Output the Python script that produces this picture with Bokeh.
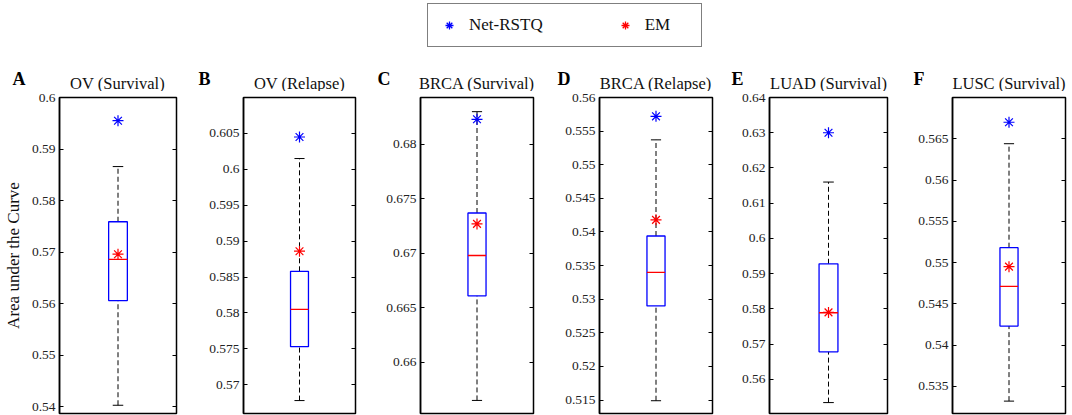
from bokeh.plotting import figure
from bokeh.models import (ColumnDataSource, Range1d, LinearAxis, FixedTicker,
                          Legend, LegendItem)
from bokeh.core.properties import value
from bokeh.layouts import column, row
from bokeh.embed import file_html
from bokeh.resources import INLINE

# ---- data ----
letters = ["A", "B", "C", "D", "E", "F"]
titles = ["OV (Survival)", "OV (Relapse)", "BRCA (Survival)", "BRCA (Relapse)",
          "LUAD (Survival)", "LUSC (Survival)"]
whisker_low = [0.5403, 0.5678, 0.6565, 0.5149, 0.5534, 0.5332]
q1 = [0.5606, 0.5753, 0.6661, 0.5290, 0.5678, 0.5423]
median = [0.5686, 0.5805, 0.6698, 0.5340, 0.5789, 0.5471]
q3 = [0.5759, 0.5858, 0.6737, 0.5394, 0.5928, 0.5518]
whisker_high = [0.5866, 0.6015, 0.6830, 0.5537, 0.6160, 0.5644]
net_rstq = [0.5955, 0.6045, 0.6823, 0.5572, 0.6300, 0.5670]
em = [0.5696, 0.5886, 0.6727, 0.5418, 0.5790, 0.5495]
y_low = [0.5387, 0.5660, 0.6553, 0.5130, 0.5503, 0.5317]
y_high = [0.6000, 0.6100, 0.6843, 0.5600, 0.6400, 0.5700]
tick_values = [
    [0.54, 0.55, 0.56, 0.57, 0.58, 0.59, 0.6],
    [0.57, 0.575, 0.58, 0.585, 0.59, 0.595, 0.6, 0.605],
    [0.66, 0.665, 0.67, 0.675, 0.68],
    [0.515, 0.52, 0.525, 0.53, 0.535, 0.54, 0.545, 0.55, 0.555, 0.56],
    [0.56, 0.57, 0.58, 0.59, 0.6, 0.61, 0.62, 0.63, 0.64],
    [0.535, 0.54, 0.545, 0.55, 0.555, 0.56, 0.565],
]
tick_labels = [[format(v, "g") for v in tv] for tv in tick_values]
legend_labels = ["Net-RSTQ", "EM"]
y_label = "Area under the Curve"

# ---- layout / style ----
FONT = "Liberation Serif"
fig_widths = [180, 180, 180, 180, 180, 172]
border_left = [58, 63, 60, 59, 49, 52]
border_right = [4, 5, 7, 8, 13, 7]
letter_x = [12, 198, 377, 557, 731, 913]
TOP_H = 91
ROW_H = 324
BOX_HALF = 0.08
CAP_HALF = 0.045

panels = []
frame_centers = []
left_edge = 0
for i in range(6):
    frame_centers.append(left_edge + border_left[i] +
                         (fig_widths[i] - border_left[i] - border_right[i]) / 2)
    left_edge += fig_widths[i]

    src = ColumnDataSource(dict(
        x=[1.0], wl=[whisker_low[i]], q1=[q1[i]], med=[median[i]], q3=[q3[i]],
        wh=[whisker_high[i]], net=[net_rstq[i]], em=[em[i]]))
    p = figure(width=fig_widths[i], height=ROW_H, output_backend="svg",
               toolbar_location=None, title=None, x_range=Range1d(0.5, 1.5),
               y_range=Range1d(y_low[i], y_high[i]),
               min_border_left=border_left[i], min_border_right=border_right[i],
               min_border_top=6, min_border_bottom=2)
    p.xaxis.visible = False
    p.xgrid.visible = False
    p.ygrid.visible = False
    p.outline_line_color = "black"
    p.outline_line_width = 1.5
    p.outline_line_alpha = 1.0

    ax = p.yaxis[0]
    ax.ticker = FixedTicker(ticks=tick_values[i])
    ax.major_label_overrides = {v: s for v, s in zip(tick_values[i], tick_labels[i])}
    ax.major_tick_in = 4
    ax.major_tick_out = 0
    ax.minor_tick_line_color = None
    ax.axis_line_width = 1.5
    ax.major_label_text_font = FONT
    ax.major_label_text_font_size = "13.5px"
    ax.major_label_text_color = "#222222"
    ax.major_label_standoff = 4
    if i == 0:
        ax.axis_label = y_label
        ax.axis_label_text_font = FONT
        ax.axis_label_text_font_size = "17px"
        ax.axis_label_text_font_style = "normal"
        ax.axis_label_text_color = "#111111"
        ax.axis_label_standoff = 6

    rax = LinearAxis(ticker=FixedTicker(ticks=tick_values[i]),
                     major_label_overrides={v: "" for v in tick_values[i]},
                     major_tick_in=4, major_tick_out=0, minor_tick_line_color=None,
                     axis_line_color=None, major_label_standoff=0,
                     major_label_text_font_size="1px")
    p.add_layout(rax, "right")

    # whiskers
    p.segment(x0="x", y0="wl", x1="x", y1="q1", source=src, line_color="black",
              line_width=1, line_dash="5 3")
    p.segment(x0="x", y0="q3", x1="x", y1="wh", source=src, line_color="black",
              line_width=1, line_dash="5 3")
    # caps
    p.segment(x0=1 - CAP_HALF, y0="wl", x1=1 + CAP_HALF, y1="wl", source=src,
              line_color="black", line_width=1)
    p.segment(x0=1 - CAP_HALF, y0="wh", x1=1 + CAP_HALF, y1="wh", source=src,
              line_color="black", line_width=1)
    # box
    p.quad(left=1 - BOX_HALF, right=1 + BOX_HALF, bottom="q1", top="q3", source=src,
           fill_color=None, line_color="#0000ff", line_width=1.3)
    # median
    p.segment(x0=1 - BOX_HALF, y0="med", x1=1 + BOX_HALF, y1="med", source=src,
              line_color="#ff0000", line_width=1.3)
    # points
    p.scatter(x="x", y="net", source=src, marker="asterisk", size=11,
              line_color="#0000ff", line_width=1.2)
    p.scatter(x="x", y="em", source=src, marker="asterisk", size=11,
              line_color="#ff0000", line_width=1.2)
    panels.append(p)

# ---- header strip: legend, panel letters, panel titles ----
top = figure(width=1072, height=TOP_H, output_backend="svg", toolbar_location=None,
             title=None, x_range=Range1d(0, 1072), y_range=Range1d(TOP_H, 0),
             min_border=0)
top.xaxis.visible = False
top.yaxis.visible = False
top.xgrid.visible = False
top.ygrid.visible = False
top.outline_line_color = None

top.text(x=frame_centers, y=[82.5] * 6, text=titles, text_font=value(FONT),
         text_font_size="16.5px", text_align="center", text_baseline="middle",
         text_color="#111111")
top.text(x=letter_x, y=[78] * 6, text=letters, text_font=value(FONT),
         text_font_size="18px", text_font_style="bold", text_align="left",
         text_baseline="middle", text_color="black")

r1 = top.scatter(x=[-100], y=[-100], marker="asterisk", size=15, line_color="#0000ff",
                 line_width=1.3)
r2 = top.scatter(x=[-100], y=[-100], marker="asterisk", size=15, line_color="#ff0000",
                 line_width=1.3)
leg = Legend(items=[LegendItem(label=legend_labels[0], renderers=[r1]),
                    LegendItem(label=legend_labels[1], renderers=[r2])],
             orientation="horizontal", location=(427, TOP_H - 47), padding=11,
             spacing=72, glyph_width=20, glyph_height=20, label_standoff=10,
             label_width=45,
             label_text_font=FONT, label_text_font_size="17px",
             label_text_color="#111111", border_line_color="black",
             border_line_width=1, margin=0)
top.add_layout(leg, "center")

layout = column(top, row(*panels, spacing=0), spacing=0)
open("out.html", "w").write(file_html(layout, INLINE))
